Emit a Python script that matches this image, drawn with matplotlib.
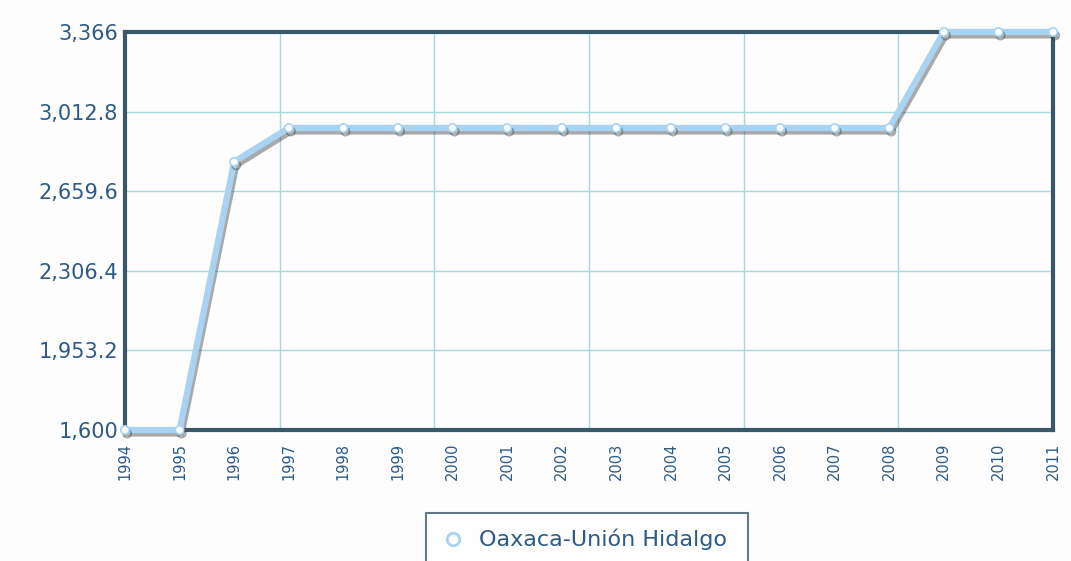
import matplotlib.pyplot as plt
import matplotlib.patheffects as pe
from matplotlib.lines import Line2D

# Datos de la serie
anios = list(range(1994, 2012))
valores = [1600, 1600, 2790, 2940, 2940, 2940, 2940, 2940, 2940, 2940,
           2940, 2940, 2940, 2940, 2940, 3366, 3366, 3366]
serie = "Oaxaca-Unión Hidalgo"

y_min = 1600
y_max = 3366
y_ticks = [1600, 1953.2, 2306.4, 2659.6, 3012.8, 3366]

color_linea = '#a9d3f2'
color_marco = '#3b586b'
color_grid = '#a6d8dc'
color_texto = '#2d5a86'


def formato(v):
    if abs(v - round(v)) < 1e-6:
        return f"{int(round(v)):,}"
    return f"{v:,.1f}"


fig = plt.figure(figsize=(10.71, 5.61), dpi=100)
fig.patch.set_facecolor('#fdfdfd')
ax = fig.add_axes([0.1167, 0.2335, 0.8665, 0.7095])
ax.set_facecolor('#fdfdfd')

ax.plot(anios, valores, color=color_linea, linewidth=4.5, marker='o',
        markersize=6, markerfacecolor='white', markeredgecolor=color_linea,
        markeredgewidth=1.2, solid_joinstyle='miter', zorder=5, clip_on=False,
        path_effects=[pe.SimpleLineShadow(offset=(1.5, -2.5), shadow_color='#444444', alpha=0.45),
                      pe.Normal()])

ax.set_xlim(anios[0], anios[-1])
ax.set_ylim(y_min, y_max)

# Ticks principales: años (sin rejilla); rejilla vertical en 6 divisiones
ax.set_xticks(anios)
ax.set_xticklabels([str(a) for a in anios], rotation=90, fontsize=10.5, color=color_texto)
span = anios[-1] - anios[0]
ax.set_xticks([anios[0] + span * k / 6 for k in range(1, 6)], minor=True)
ax.grid(True, which='minor', axis='x', color=color_grid, linewidth=1)

ax.set_yticks(y_ticks)
ax.set_yticklabels([formato(v) for v in y_ticks], fontsize=15, color=color_texto)
ax.grid(True, which='major', axis='y', color=color_grid, linewidth=1)

ax.tick_params(axis='both', which='both', length=0)
ax.tick_params(axis='x', pad=9)
ax.tick_params(axis='y', pad=5)

for s in ax.spines.values():
    s.set_color(color_marco)
    s.set_linewidth(3)
ax.set_axisbelow(True)

handle = Line2D([], [], linestyle='none', marker='o', markersize=9,
                markerfacecolor='white', markeredgecolor=color_linea, markeredgewidth=2)
leg = fig.legend([handle], [serie], loc='upper left',
                 bbox_to_anchor=(426 / 1071, 1 - 514 / 561, 322 / 1071, 0.001), mode='expand',
                 fontsize=16, frameon=True, fancybox=False, borderpad=0.7,
                 handlelength=1.0, handletextpad=0.7, borderaxespad=0)
leg.get_frame().set_edgecolor(color_marco)
leg.get_frame().set_linewidth(1.5)
for t in leg.get_texts():
    t.set_color(color_texto)

fig.savefig('out.png', dpi=100, facecolor=fig.get_facecolor())
